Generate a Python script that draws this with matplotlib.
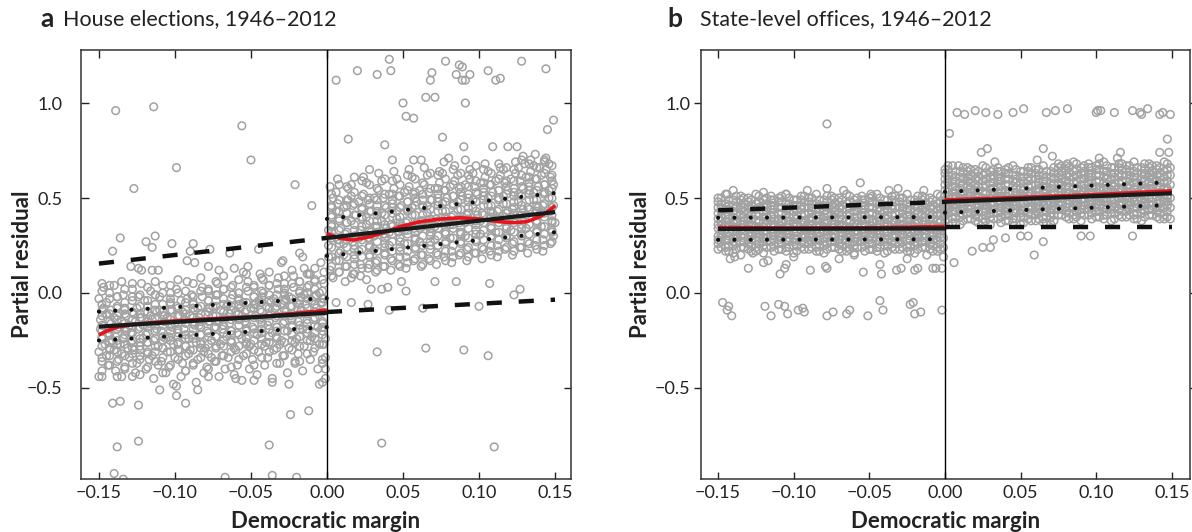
import numpy as np
import matplotlib
matplotlib.use('Agg')
import matplotlib.pyplot as plt

plt.rcParams['font.family'] = ['Lato', 'DejaVu Sans']

# scatter points as "x:y" pairs, x in thousandths, y in hundredths
a_left_cloud = """
-150:-3 -149:-14 -148:-24 -150:-31 -147:-8 -149:-19 -148:-36 -146:-27 -147:3 -150:-44
-145:-11 -144:-21 -143:-29 -145:-5 -142:-16 -144:-38 -143:0 -141:-25 -145:-33 -142:-9
-140:-13 -139:-23 -138:-2 -140:-30 -137:-18 -139:-41 -138:-7 -136:-27 -140:4 -137:-35
-135:-15 -134:-24 -133:-9 -135:-32 -132:-20 -134:-1 -131:-29 -133:-39 -132:-12 -135:6
-130:-17 -129:-26 -128:-4 -130:-34 -127:-11 -129:-21 -126:-42 -128:2 -127:-30 -126:-15
-125:-8 -124:-19 -123:-28 -125:-37 -122:-13 -124:-2 -121:-24 -123:-33 -122:5 -121:-17
-120:-10 -119:-22 -118:-31 -120:-4 -117:-16 -119:-40 -118:-26 -116:1 -117:-35 -116:-12
-115:-14 -114:-25 -113:-6 -115:-33 -112:-19 -114:-45 -113:-1 -111:-28 -112:-10 -111:-38
-110:-9 -109:-20 -108:-29 -110:-2 -107:-15 -109:-36 -108:4 -106:-24 -107:-12 -106:-42
-105:-13 -104:-23 -103:-5 -105:-31 -102:-18 -104:-39 -103:0 -101:-27 -102:-9 -101:-48
-100:-16 -99:-7 -98:-26 -100:-34 -97:-12 -99:2 -98:-21 -96:-44 -97:-30 -96:-4
-95:-10 -94:-19 -93:-28 -95:-37 -92:-3 -94:-14 -93:-41 -91:-24 -92:6 -91:-32
-90:-12 -89:-22 -88:-6 -90:-30 -87:-17 -89:-1 -88:-38 -86:-26 -87:-9 -86:-47
-85:-8 -84:-17 -83:-27 -85:-35 -82:-2 -84:-13 -83:-22 -81:-42 -82:3 -81:-31
-80:-11 -79:-20 -78:-4 -80:-29 -77:-15 -79:-39 -78:1 -76:-25 -77:-8 -76:-34
-75:-7 -74:-18 -73:-28 -75:-12 -72:-1 -74:-36 -73:-23 -71:-44 -72:5 -71:-15
-70:-9 -69:-19 -68:-3 -70:-27 -67:-13 -69:-33 -68:2 -66:-23 -67:-40 -66:-7
-65:-6 -64:-16 -63:-25 -65:-34 -62:-1 -64:-11 -63:-20 -61:-43 -62:4 -61:-29
-60:-10 -59:-21 -58:-4 -60:-30 -57:-14 -59:-38 -58:0 -56:-24 -57:-8 -56:-46
-55:-5 -54:-15 -53:-26 -55:-33 -52:1 -54:-10 -53:-19 -51:-40 -52:6 -51:-28
-50:-8 -49:-18 -48:-2 -50:-27 -47:-12 -49:-35 -48:3 -46:-22 -47:-6 -46:-43
-45:-4 -44:-14 -43:-24 -45:-31 -42:0 -44:-9 -43:-19 -41:-38 -42:7 -41:-28
-40:-7 -39:-17 -38:-1 -40:-26 -37:-11 -39:-34 -38:4 -36:-21 -37:-5 -36:-45
-35:-3 -34:-13 -33:-23 -35:-30 -32:2 -34:-8 -33:-18 -31:-37 -32:8 -31:-27
-30:-6 -29:-16 -28:0 -30:-25 -27:-10 -29:-33 -28:5 -26:-20 -27:-3 -26:-42
-25:-2 -24:-12 -23:-22 -25:-29 -22:3 -24:-7 -23:-17 -21:-36 -22:9 -21:-26
-20:-5 -19:-15 -18:1 -20:-24 -17:-9 -19:-32 -18:6 -16:-19 -17:-2 -16:-41
-15:-1 -14:-11 -13:-21 -15:-28 -12:4 -14:-6 -13:-16 -11:-35 -12:10 -11:-25
-10:-4 -9:-14 -8:2 -10:-23 -7:-8 -9:-31 -8:7 -6:-18 -7:-1 -6:-40
-5:0 -4:-10 -3:-20 -5:-27 -2:5 -4:-5 -3:-15 -1:-34 -2:11 -1:-24 -1:-45 -2:-3
"""

# second layer, one column per line: "x: y y y ..."
a_left_cols = """
-148: -28 -17 -6 -41 -12 -23 -34 1 -20 -9
-143: -22 -33 -11 -3 -38 -15 -26 4 -30 -19
-138: -25 -14 -36 -8 -31 -2 -19 -44 -12 -27
-133: -27 -16 -5 -40 -11 -22 -33 2 -19 -8
-128: -21 -32 -10 -2 -37 -14 -25 5 -29 -18
-123: -24 -13 -35 -7 -30 -1 -18 -43 -11 -26
-118: -26 -15 -4 -39 -10 -21 -32 3 -18 -7
-113: -20 -31 -9 -1 -36 -13 -24 6 -28 -17
-108: -23 -12 -34 -6 -29 0 -17 -42 -10 -25
-103: -25 -14 -3 -38 -9 -20 -31 4 -17 -6
-98: -19 -30 -8 0 -35 -12 -23 7 -27 -16
-93: -22 -11 -33 -5 -28 1 -16 -41 -9 -24
-88: -24 -13 -2 -37 -8 -19 -30 5 -16 -5
-83: -18 -29 -7 1 -34 -11 -22 8 -26 -15
-78: -21 -10 -32 -4 -27 2 -15 -40 -8 -23
-73: -23 -12 -1 -36 -7 -18 -29 6 -15 -4
-68: -17 -28 -6 2 -33 -10 -21 9 -25 -14
-63: -20 -9 -31 -3 -26 3 -14 -39 -7 -22
-58: -22 -11 0 -35 -6 -17 -28 7 -14 -3
-53: -16 -27 -5 3 -32 -9 -20 10 -24 -13
-48: -19 -8 -30 -2 -25 4 -13 -38 -6 -21
-43: -21 -10 1 -34 -5 -16 -27 8 -13 -2
-38: -15 -26 -4 4 -31 -8 -19 11 -23 -12
-33: -18 -7 -29 -1 -24 5 -12 -37 -5 -20
-28: -20 -9 2 -33 -4 -15 -26 9 -12 -1
-23: -14 -25 -3 5 -30 -7 -18 12 -22 -11
-18: -17 -6 -28 0 -23 6 -11 -36 -4 -19
-13: -19 -8 3 -32 -3 -14 -25 10 -11 0
-8: -13 -24 -2 6 -29 -6 -17 13 -21 -10
-3: -16 -5 -27 1 -22 7 -10 -35 -3 -18
"""

a_left_sparse = """
-139:96 -114:98 -56:88 -50:70 -99:66 -127:55 -21:57 -10:46 -136:29 -113:30
-119:27 -115:24 -141:22 -102:26 -88:26 -90:22 -77:23 -64:21 -45:23 -18:21
-16:19 -29:17 -92:17 -87:16 -129:14 -122:12 -115:12 -111:12 -61:13 -55:11
-52:14 -15:13 -78:14 -71:12 -44:10 -30:16 -4:16 -11:10 -148:5 -124:13
-141:-58 -136:-57 -124:-59 -93:-58 -24:-64 -12:-62 -138:-81 -124:-78 -38:-80
-140:-95 -134:-98 -67:-97 -36:-96 -20:-97 -110:-51 -99:-49 -99:-54 -85:-51
-48:-46 -36:-47 -25:-48 -5:-48 -148:-44 -135:-44 -128:-44 -78:-44 -60:-45
-21:-37 -3:-37 -1:-40 -3:-47 -2:-27
"""

a_right_cloud = """
2:30 1:19 3:41 2:12 4:50 1:25 3:36 4:8 2:56 3:45 1:33
7:28 6:17 8:39 7:47 9:22 6:53 8:11 9:34 7:60 6:43
12:31 11:20 13:42 12:14 14:49 11:26 13:37 14:55 12:6 11:45
17:27 16:38 18:18 17:46 19:30 16:57 18:23 19:41 17:10 16:51
22:33 21:22 23:44 22:15 24:52 21:29 23:39 24:61 22:9 21:48
27:29 26:40 28:19 27:49 29:32 26:58 28:24 29:43 27:13 26:36
32:35 31:23 33:46 32:16 34:54 31:30 33:41 34:63 32:11 31:50
37:31 36:42 38:21 37:50 39:34 36:59 38:26 39:45 37:14 36:38
42:36 41:25 43:47 42:18 44:55 41:32 43:42 44:64 42:12 41:52
47:32 46:43 48:22 47:51 49:35 46:60 48:27 49:46 47:15 46:39
52:37 51:26 53:48 52:19 54:56 51:33 53:44 54:65 52:13 51:53
57:34 56:45 58:24 57:52 59:37 56:61 58:29 59:48 57:17 56:41
62:38 61:27 63:49 62:20 64:57 61:34 63:45 64:66 62:14 61:54
67:35 66:46 68:25 67:53 69:38 66:62 68:30 69:49 67:18 66:42
72:39 71:28 73:50 72:21 74:58 71:35 73:46 74:64 72:15 71:55
77:36 76:47 78:26 77:54 79:39 76:63 78:31 79:50 77:19 76:43
82:40 81:29 83:51 82:22 84:59 81:36 83:47 84:67 82:16 81:56
87:37 86:48 88:27 87:55 89:40 86:62 88:32 89:51 87:20 86:44
92:41 91:30 93:52 92:23 94:60 91:37 93:48 94:65 92:17 91:57
97:38 96:49 98:28 97:56 99:41 96:63 98:33 99:52 97:21 96:45
102:42 101:31 103:53 102:24 104:61 101:38 103:49 104:68 102:18 101:58
107:39 106:50 108:29 107:57 109:42 106:64 108:34 109:53 107:22 106:46
112:43 111:32 113:54 112:25 114:62 111:39 113:50 114:66 112:19 111:59
117:40 116:51 118:30 117:58 119:43 116:65 118:35 119:54 117:23 116:47
122:44 121:33 123:55 122:26 124:63 121:40 123:51 124:69 122:20 121:60
127:41 126:52 128:31 127:59 129:44 126:66 128:36 129:55 127:24 126:48
132:45 131:34 133:56 132:27 134:64 131:41 133:52 134:70 132:21 131:61
137:42 136:53 138:32 137:60 139:45 136:67 138:37 139:56 137:25 136:49
142:46 141:35 143:57 142:28 144:65 141:42 143:53 144:71 142:22 141:62
147:43 146:54 148:33 147:61 149:46 146:68 148:38 149:57 147:26 146:50 150:37 149:30
"""

a_right_cols = """
3: 24 35 14 46 29 52 19 40 9 32
8: 38 21 49 28 11 43 33 57 17 26
13: 32 46 19 37 56 24 42 14 49 28
18: 25 36 15 47 30 53 20 41 10 33
23: 40 23 51 30 13 45 35 59 19 28
28: 33 47 20 38 57 25 43 15 50 29
33: 27 38 17 49 32 55 22 43 12 35
38: 41 24 52 31 14 46 36 60 20 29
43: 35 49 22 40 59 27 45 17 52 31
48: 29 40 19 51 34 57 24 45 14 37
53: 43 26 54 33 16 48 38 62 22 31
58: 36 50 23 41 60 28 46 18 53 32
63: 30 41 20 52 35 58 25 46 15 38
68: 44 27 55 34 17 49 39 63 23 32
73: 38 52 25 43 62 30 48 20 55 34
78: 32 43 22 54 37 60 27 48 17 40
83: 46 29 57 36 19 51 41 65 25 34
88: 39 53 26 44 63 31 49 21 56 35
93: 34 45 24 56 39 62 29 50 19 42
98: 48 31 59 38 21 53 43 67 27 36
103: 41 55 28 46 65 33 51 23 58 37
108: 35 46 25 57 40 63 30 51 20 43
113: 49 32 60 39 22 54 44 68 28 37
118: 42 56 29 47 66 34 52 24 59 38
123: 37 48 27 59 42 65 32 53 22 45
128: 51 34 62 41 24 56 46 70 30 39
133: 44 58 31 49 68 36 54 26 61 40
138: 38 49 28 60 43 66 33 54 23 46
143: 52 35 63 42 25 57 47 69 31 40
148: 45 59 32 50 67 37 55 27 62 41
"""

a_right_sparse = """
41:123 78:122 128:122 6:112 20:117 33:115 42:117 69:116 68:112 85:115
87:120 89:119 94:115 89:112 91:112 106:117 111:112 114:113 144:118 50:100
65:103 71:103 91:100 52:93 57:92 149:91 145:86 14:81 38:78 76:82
90:77 109:77 119:77 125:77 43:70 57:70 62:70 80:71 77:69 91:70
129:72 130:68 137:73 143:70 28:65 18:61 140:66
16:8 26:7 29:2 36:2 40:3 52:1 49:6 71:6 85:6 107:5 123:-1 127:2
6:-5 16:-5 27:-6 41:-9 63:-8 100:-7 33:-31 65:-29 90:-30 106:-33 36:-79 110:-81
"""

b_left_cols = """
-150: 34 26 45 39 30 50 23 42 28 36 48
-148: 29 40 33 47 24 38 43 27 50 31 36 45
-145: 31 41 24 47 35 28 52 38 22 44 33
-143: 36 25 44 32 49 28 41 35 22 46 30 39
-140: 37 29 49 25 43 32 40 21 46 35 27
-138: 42 31 26 38 45 34 23 48 29 37 51 33
-135: 33 44 27 51 38 24 46 30 41 36 49
-133: 29 40 33 47 24 38 43 27 50 31 36 45
-130: 34 26 45 39 30 50 23 42 28 36 48
-128: 36 25 44 32 49 28 41 35 22 46 30 39
-125: 31 41 24 47 35 28 52 38 22 44 33
-123: 42 31 26 38 45 34 23 48 29 37 51 33
-120: 37 29 49 25 43 32 40 21 46 35 27
-118: 29 40 33 47 24 38 43 27 50 31 36 45
-115: 33 44 27 51 38 24 46 30 41 36 49
-113: 36 25 44 32 49 28 41 35 22 46 30 39
-110: 34 26 45 39 30 50 23 42 28 36 48
-108: 42 31 26 38 45 34 23 48 29 37 51 33
-105: 31 41 24 47 35 28 52 38 22 44 33
-103: 29 40 33 47 24 38 43 27 50 31 36 45
-100: 37 29 49 25 43 32 40 21 46 35 27
-98: 36 25 44 32 49 28 41 35 22 46 30 39
-95: 33 44 27 51 38 24 46 30 41 36 49
-93: 42 31 26 38 45 34 23 48 29 37 51 33
-90: 34 26 45 39 30 50 23 42 28 36 48
-88: 29 40 33 47 24 38 43 27 50 31 36 45
-85: 31 41 24 47 35 28 52 38 22 44 33
-83: 36 25 44 32 49 28 41 35 22 46 30 39
-80: 37 29 49 25 43 32 40 21 46 35 27
-78: 42 31 26 38 45 34 23 48 29 37 51 33
-75: 33 44 27 51 38 24 46 30 41 36 49
-73: 29 40 33 47 24 38 43 27 50 31 36 45
-70: 34 26 45 39 30 50 23 42 28 36 48
-68: 36 25 44 32 49 28 41 35 22 46 30 39
-65: 31 41 24 47 35 28 52 38 22 44 33
-63: 42 31 26 38 45 34 23 48 29 37 51 33
-60: 37 29 49 25 43 32 40 21 46 35 27
-58: 29 40 33 47 24 38 43 27 50 31 36 45
-55: 33 44 27 51 38 24 46 30 41 36 49
-53: 36 25 44 32 49 28 41 35 22 46 30 39
-50: 34 26 45 39 30 50 23 42 28 36 48
-48: 42 31 26 38 45 34 23 48 29 37 51 33
-45: 31 41 24 47 35 28 52 38 22 44 33
-43: 29 40 33 47 24 38 43 27 50 31 36 45
-40: 37 29 49 25 43 32 40 21 46 35 27
-38: 36 25 44 32 49 28 41 35 22 46 30 39
-35: 33 44 27 51 38 24 46 30 41 36 49
-33: 42 31 26 38 45 34 23 48 29 37 51 33
-30: 34 26 45 39 30 50 23 42 28 36 48
-28: 29 40 33 47 24 38 43 27 50 31 36 45
-25: 31 41 24 47 35 28 52 38 22 44 33
-23: 36 25 44 32 49 28 41 35 22 46 30 39
-20: 37 29 49 25 43 32 40 21 46 35 27
-18: 42 31 26 38 45 34 23 48 29 37 51 33
-15: 33 44 27 51 38 24 46 30 41 36 49
-13: 29 40 33 47 24 38 43 27 50 31 36 45
-10: 34 26 45 39 30 50 23 42 28 36 48
-8: 36 25 44 32 49 28 41 35 22 46 30 39
-5: 31 41 24 47 35 28 52 38 22 44 33
-3: 42 31 26 38 45 34 23 48 29 37 51 33
-1: 40 29 47 35 24 44
"""

b_left_sparse = """
-78:89 -140:54 -144:52 -78:55 -91:54 -67:54 -56:58 -49:52 -37:54 -31:55 -14:54 -120:53 -105:52
-130:13 -142:18 -139:19 -127:21 -120:16 -117:17 -109:10 -106:13 -105:15 -89:12 -79:14 -78:13
-54:11 -42:10 -43:15 -32:12 -29:13 -20:12 -18:13 -8:13 -6:13 -2:13 -1:19 -135:20 -100:19
-70:18 -60:20 -25:18 -12:20
-147:-5 -143:-7 -144:-9 -141:-12 -119:-7 -115:-12 -110:-6 -106:-7 -104:-11 -97:-9 -94:-8
-93:-10 -78:-12 -74:-10 -65:-11 -63:-9 -51:-12 -43:-4 -41:-9 -23:-6 -21:-5 -20:-11 -16:-10 -2:-9
"""

b_right_cols = """
0: 49 41 60 54 45 65 38 57 43 51 63
2: 44 55 48 62 39 53 58 42 65 46 51 60
5: 46 56 39 62 50 43 67 53 37 59 48
7: 51 40 59 47 64 43 56 50 37 61 45 54
10: 52 44 64 40 58 47 55 36 61 50 42
12: 57 46 41 53 60 49 38 63 44 52 66 48
15: 48 59 42 66 53 39 61 45 56 51 64
17: 44 55 48 62 39 53 58 42 65 46 51 60
20: 49 41 60 54 45 65 38 57 43 51 63
22: 51 40 59 47 64 43 56 50 37 61 45 54
25: 46 56 39 62 50 43 67 53 37 59 48
27: 57 46 41 53 60 49 38 63 44 52 66 48
30: 52 44 64 40 58 47 55 36 61 50 42
32: 44 55 48 62 39 53 58 42 65 46 51 60
35: 48 59 42 66 53 39 61 45 56 51 64
37: 51 40 59 47 64 43 56 50 37 61 45 54
40: 49 41 60 54 45 65 38 57 43 51 63
42: 57 46 41 53 60 49 38 63 44 52 66 48
45: 46 56 39 62 50 43 67 53 37 59 48
47: 44 55 48 62 39 53 58 42 65 46 51 60
50: 52 44 64 40 58 47 55 36 61 50 42
52: 51 40 59 47 64 43 56 50 37 61 45 54
55: 48 59 42 66 53 39 61 45 56 51 64
57: 57 46 41 53 60 49 38 63 44 52 66 48
60: 49 41 60 54 45 65 38 57 43 51 63
62: 44 55 48 62 39 53 58 42 65 46 51 60
65: 46 56 39 62 50 43 67 53 37 59 48
67: 51 40 59 47 64 43 56 50 37 61 45 54
70: 52 44 64 40 58 47 55 36 61 50 42
72: 57 46 41 53 60 49 38 63 44 52 66 48
75: 50 61 44 68 55 41 63 47 58 53 66
77: 46 57 50 64 41 55 60 44 67 48 53 62
80: 51 43 62 56 47 67 40 59 45 53 65
82: 53 42 61 49 66 45 58 52 39 63 47 56
85: 48 58 41 64 52 45 69 55 39 61 50
87: 59 48 43 55 62 51 40 65 46 54 68 50
90: 54 46 66 42 60 49 57 38 63 52 44
92: 46 57 50 64 41 55 60 44 67 48 53 62
95: 50 61 44 68 55 41 63 47 58 53 66
97: 53 42 61 49 66 45 58 52 39 63 47 56
100: 51 43 62 56 47 67 40 59 45 53 65
102: 59 48 43 55 62 51 40 65 46 54 68 50
105: 48 58 41 64 52 45 69 55 39 61 50
107: 46 57 50 64 41 55 60 44 67 48 53 62
110: 54 46 66 42 60 49 57 38 63 52 44
112: 53 42 61 49 66 45 58 52 39 63 47 56
115: 50 61 44 68 55 41 63 47 58 53 66
117: 59 48 43 55 62 51 40 65 46 54 68 50
120: 51 43 62 56 47 67 40 59 45 53 65
122: 46 57 50 64 41 55 60 44 67 48 53 62
125: 48 58 41 64 52 45 69 55 39 61 50
127: 53 42 61 49 66 45 58 52 39 63 47 56
130: 54 46 66 42 60 49 57 38 63 52 44
132: 59 48 43 55 62 51 40 65 46 54 68 50
135: 50 61 44 68 55 41 63 47 58 53 66
137: 46 57 50 64 41 55 60 44 67 48 53 62
140: 51 43 62 56 47 67 40 59 45 53 65
142: 53 42 61 49 66 45 58 52 39 63 47 56
145: 48 58 41 64 52 45 69 55 39 61 50
147: 59 48 43 55 62 51 40 65 46 54 68 50
149: 57 45 62 50 39 66
"""

b_right_sparse = """
8:95 13:94 20:96 27:95 35:94 45:95 52:97 67:95 73:96 81:97 100:95 101:96 103:96
112:95 124:96 129:95 130:94 134:97 142:94 144:95 149:94
3:84 147:81 24:74 28:76 65:76 71:72 61:70 142:74 148:74 114:71 116:74 102:71 81:68 33:69 9:67 2:67
18:22 25:24 30:24 32:28 6:16 59:20 65:27 124:30 90:30 96:30 40:29 50:30 55:30
"""

# fitted lines
a_left_x = [-0.15, 0.0]
a_left_fit = [-0.177, -0.104]
a_left_hi = [-0.098, -0.027]
a_left_lo = [-0.25, -0.18]
a_left_cf = [0.155, 0.29]
a_right_x = [0.0, 0.15]
a_right_fit = [0.29, 0.426]
a_right_hi = [0.39, 0.526]
a_right_lo = [0.195, 0.32]
a_right_cf = [-0.10, -0.035]
a_left_loess_x = [-0.150, -0.145, -0.138, -0.127, -0.108, -0.075, -0.042, -0.009, 0.0]
a_left_loess_y = [-0.221, -0.200, -0.180, -0.165, -0.151, -0.135, -0.123, -0.098, -0.090]
a_right_loess_x = [0.0, 0.0086, 0.0173, 0.0283, 0.0393, 0.048, 0.0612, 0.0743, 0.0875,
                   0.1007, 0.1138, 0.1226, 0.1314, 0.1401, 0.1467, 0.15]
a_right_loess_y = [0.311, 0.288, 0.279, 0.296, 0.323, 0.349, 0.375, 0.389, 0.396,
                   0.389, 0.375, 0.370, 0.375, 0.402, 0.437, 0.46]

b_left_fit = [0.337, 0.340]
b_left_hi = [0.396, 0.400]
b_left_lo = [0.280, 0.283]
b_left_cf = [0.435, 0.48]
b_right_fit = [0.48, 0.525]
b_right_hi = [0.533, 0.583]
b_right_lo = [0.423, 0.463]
b_right_cf = [0.347, 0.347]
b_left_loess_x = [-0.15, -0.10, -0.05, 0.0]
b_left_loess_y = [0.345, 0.342, 0.343, 0.350]
b_right_loess_x = [0.0, 0.05, 0.10, 0.15]
b_right_loess_y = [0.490, 0.503, 0.518, 0.538]

xticks = [-0.15, -0.10, -0.05, 0.00, 0.05, 0.10, 0.15]
yticks = [-0.5, 0.0, 0.5, 1.0]


def pts(s):
    xs, ys = [], []
    for tok in s.split():
        a, b = tok.split(':')
        xs.append(int(a) / 1000)
        ys.append(int(b) / 100)
    return xs, ys


def cols(s):
    xs, ys = [], []
    for line in s.strip().splitlines():
        head, vals = line.split(':')
        for v in vals.split():
            xs.append(int(head) / 1000)
            ys.append(int(v) / 100)
    return xs, ys


def minus(s):
    return s.replace('-', '\u2212')


fig = plt.figure(figsize=(11.92, 5.32), dpi=100)
ax_a = fig.add_axes([81 / 1192, 53 / 532, 490 / 1192, 429 / 532])
ax_b = fig.add_axes([701 / 1192, 53 / 532, 489 / 1192, 429 / 532])

gray = '#a2a2a2'

panels = [
    (ax_a, [pts(a_left_cloud), cols(a_left_cols), pts(a_left_sparse),
            pts(a_right_cloud), cols(a_right_cols), pts(a_right_sparse)],
     (a_left_fit, a_left_hi, a_left_lo, a_left_cf, a_left_loess_x, a_left_loess_y),
     (a_right_fit, a_right_hi, a_right_lo, a_right_cf, a_right_loess_x, a_right_loess_y),
     (-0.1618, 0.1605)),
    (ax_b, [cols(b_left_cols), pts(b_left_sparse), cols(b_right_cols), pts(b_right_sparse)],
     (b_left_fit, b_left_hi, b_left_lo, b_left_cf, b_left_loess_x, b_left_loess_y),
     (b_right_fit, b_right_hi, b_right_lo, b_right_cf, b_right_loess_x, b_right_loess_y),
     (-0.1613, 0.162)),
]

for ax, clouds, left, right, xl in panels:
    for x, y in clouds:
        ax.scatter(x, y, s=30, facecolors='none', edgecolors=gray, linewidths=1.1, zorder=2)
    ax.axvline(0, color='black', lw=1.0, zorder=3)
    for xs, (fit, hi, lo, cf, lx, ly) in [(a_left_x, left), (a_right_x, right)]:
        ax.plot(lx, ly, color='#e8141c', lw=2.6, zorder=4, solid_capstyle='butt')
        ax.plot(xs, fit, color='#1a1a1a', lw=3.0, zorder=5, solid_capstyle='butt')
        for band in (hi, lo):
            ax.plot(xs, band, color='#111111', lw=3.0, linestyle=(0, (0.01, 3.9)),
                    dash_capstyle='round', zorder=5)
        ax.plot(xs, cf, color='#111111', lw=3.2, linestyle=(0, (3.4, 3.8)),
                dash_capstyle='butt', zorder=5)
    ax.set_xlim(*xl)
    ax.set_ylim(-0.979, 1.279)
    ax.set_xticks(xticks)
    ax.set_xticklabels([minus('%.2f' % v) for v in xticks])
    ax.set_yticks(yticks)
    ax.set_yticklabels([minus('%.1f' % v) for v in yticks])
    ax.tick_params(direction='in', top=True, right=True, length=5.4, width=1.0,
                   labelsize=13, colors='#222222')
    ax.tick_params(axis='x', pad=4)
    for sp in ax.spines.values():
        sp.set_linewidth(1.1)
        sp.set_color('#333333')
    ax.set_xlabel('Democratic margin', fontsize=16, fontweight='bold', color='#222222')
    ax.set_ylabel('Partial residual', fontsize=16, fontweight='bold', color='#222222')
    ax.xaxis.set_label_coords(0.5, -0.074)

ax_a.yaxis.set_label_coords(-0.098, 0.5)
ax_a.tick_params(axis='y', pad=13.5)
ax_b.tick_params(axis='y', which='both', left=True, direction='out', pad=2.5)
ax_b.tick_params(axis='y', right=True)
ax_b.yaxis.set_label_coords(-0.102, 0.5)

fig.text(40 / 1192, 1 - 19 / 532, 'a', fontsize=19, fontweight='bold', va='center', color='#222222')
fig.text(63 / 1192, 1 - 19 / 532, 'House elections, 1946\u20132012', fontsize=15.5, va='center', color='#222222')
fig.text(667 / 1192, 1 - 19 / 532, 'b', fontsize=19, fontweight='bold', va='center', color='#222222')
fig.text(700 / 1192, 1 - 19 / 532, 'State-level offices, 1946\u20132012', fontsize=15.4, va='center', color='#222222')

fig.savefig('out.png', dpi=100)
